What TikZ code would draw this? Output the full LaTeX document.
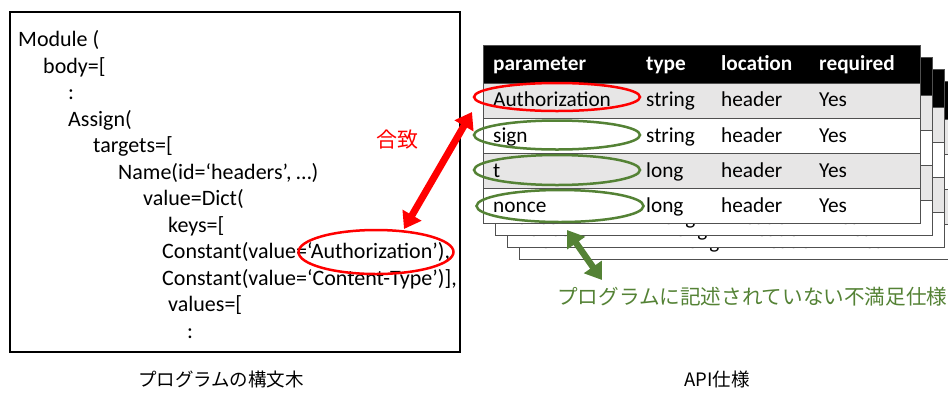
\documentclass[tikz,border=0pt]{standalone}
\usepackage{fontspec}
\setmainfont{Carlito}
\newfontfamily\jpfont{Noto Sans CJK JP}
\usetikzlibrary{shapes.geometric,arrows.meta}
\definecolor{okgreen}{RGB}{84,130,53}
\definecolor{rowgray}{RGB}{231,230,230}
\definecolor{linegray}{RGB}{80,80,80}
\tikzset{
  code/.style={anchor=base west,inner sep=0pt,font=\fontsize{22}{26}\selectfont},
  cell/.style={anchor=base west,inner sep=0pt,font=\fontsize{21.3}{26}\selectfont},
  hcell/.style={anchor=base west,inner sep=0pt,text=white,font=\fontsize{21.3}{26}\selectfont\bfseries},
  tline/.style={draw=linegray,line width=1pt},
  ring/.style={ellipse,draw,line width=2.5pt,inner sep=0pt},
  caption/.style={font=\jpfont\fontsize{18.5}{22}\selectfont,inner sep=0pt},
  bigarrow/.style={line width=7pt,{Triangle[width=21pt,length=16pt]}-{Triangle[width=21pt,length=16pt]}}
}
\newcommand\apitab[3]{%
\begin{scope}[shift={(#2,#3)}]
  \fill[black] (483,45) rectangle (920,83);
  \fill[rowgray] (483,83) rectangle (920,118);
  \fill[white] (483,118) rectangle (920,153);
  \fill[rowgray] (483,153) rectangle (920,188);
  \fill[white] (483,188) rectangle (920,223);
  \draw[tline] (483,118) -- (920,118) (483,153) -- (920,153) (483,188) -- (920,188) (483,83) -- (920,83);
  \draw[tline] (483,45) rectangle (920,223);
  \node[hcell] (#1h1) at (493,70) {parameter};
  \node[hcell] (#1h2) at (646,70) {type};
  \node[hcell] (#1h3) at (721,70) {location};
  \node[hcell] (#1h4) at (819,70) {required};
  \node[cell] (#1a1) at (493,106) {Authorization};
  \node[cell] (#1a2) at (646,106) {string};
  \node[cell] (#1a3) at (721,106) {header};
  \node[cell] (#1a4) at (819,106) {Yes};
  \node[cell] (#1b1) at (493,142) {sign};
  \node[cell] (#1b2) at (646,142) {string};
  \node[cell] (#1b3) at (721,142) {header};
  \node[cell] (#1b4) at (819,142) {Yes};
  \node[cell] (#1c1) at (493,177) {t};
  \node[cell] (#1c2) at (646,177) {long};
  \node[cell] (#1c3) at (721,177) {header};
  \node[cell] (#1c4) at (819,177) {Yes};
  \node[cell] (#1d1) at (493,212) {nonce};
  \node[cell] (#1d2) at (646,212) {long};
  \node[cell] (#1d3) at (721,212) {header};
  \node[cell] (#1d4) at (819,212) {Yes};
\end{scope}}
\begin{document}
\begin{tikzpicture}[x=1pt,y=-1pt]
\useasboundingbox (0,0) rectangle (948,392);
% left box
\draw[line width=2pt] (10,12) rectangle (460,352);
\node[code] (l1) at (18,46.5) {Module (};
\node[code] (l2) at (43,73) {body=[};
\node[code] (l3) at (68,99.5) {:};
\node[code] (l4) at (68,126) {Assign(};
\node[code] (l5) at (93,152.5) {targets=[};
\node[code] (l6) at (118,179) {Name(id=‘headers’, …)};
\node[code] (l7) at (143,205.5) {value=Dict(};
\node[code] (l8) at (168,232) {keys=[};
\node[code] (l9) at (162,258.5) {Constant(value=‘Authorization’),};
\node[code] (l10) at (162,285) {Constant(value=‘Content-Type’)],};
\node[code] (l11) at (168,311.5) {values=[};
\node[code] (l12) at (187,338) {:};
% tables (back to front)
\apitab{t3}{36}{36}
\apitab{t2}{24}{24}
\apitab{t1}{12}{12}
\apitab{m}{0}{0}
% ellipses
\node[ring,draw=red,minimum width=155pt,minimum height=44pt] (eL) at (376,252) {};
\node[ring,draw=red,minimum width=166pt,minimum height=28pt] (eA) at (557,97) {};
\node[ring,draw=okgreen,minimum width=166pt,minimum height=29pt] (eS) at (557,135) {};
\node[ring,draw=okgreen,minimum width=166pt,minimum height=30pt] (eT) at (557,170) {};
\node[ring,draw=okgreen,minimum width=167pt,minimum height=32pt] (eN) at (560,206) {};
% arrows
\coordinate (rA) at (404,229);
\coordinate (rB) at (472,112);
\draw[bigarrow,red] (rA) -- (rB);
\node[font=\jpfont\fontsize{21}{24}\selectfont,text=red,inner sep=0pt] (match) at (397,140) {合致};
\coordinate (gA) at (567,230);
\coordinate (gB) at (602,280);
\draw[bigarrow,okgreen,line width=6.5pt] (gA) -- (gB);
\node[anchor=west,font=\jpfont\fontsize{20.6}{24}\selectfont,text=okgreen,inner sep=0pt] (unsat) at (557,297) {プログラムに記述されていない不満足仕様};
% captions
\node[caption] (cap1) at (221,379) {プログラムの構文木};
\node[caption] (cap2) at (717,379) {API仕様};
\end{tikzpicture}
\end{document}
